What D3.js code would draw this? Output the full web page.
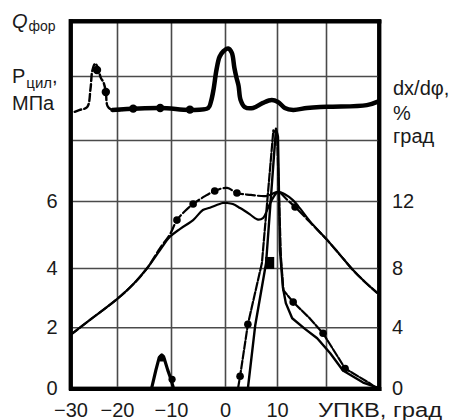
<!DOCTYPE html>
<html><head><meta charset="utf-8">
<script src="https://cdn.jsdelivr.net/npm/d3@7"></script>
<style>
body{margin:0;background:#fff}
svg{display:block}
text{font-family:"Liberation Sans",Arial,Helvetica,sans-serif;fill:#1a1a1a}
</style>
</head><body>
<svg id="c" width="458" height="420"></svg>
<script>
// ---- axes / ticks ----
const xGrid = [-30, -20, -10, 0, 10, 20, 30];
const xTickLabels = [-30, -20, -10, 0, 10];
const yGrid = [0, 2, 4, 6, 8, 10, 12];          // left scale (P, MPa) full height
const leftTicks = [0, 2, 4, 6];
const rightTicks = [0, 4, 8, 12];                // dx/dφ
const xAxisTitle = "УПКВ, град";

// ---- injection rate Q_фор (plotted in left-scale units) ----
const qEarly = [[-29.1,8.88],[-28.0,8.94],[-26.4,9.03],[-25.7,9.6],[-25.3,10.2],[-24.7,10.45],[-24.1,10.3],[-23.5,9.95],[-22.9,9.8],[-22.4,9.5],[-22.0,9.05],[-20.9,8.94],[-17.0,8.97],[-12.0,9.0],[-6.5,8.94],[-4.0,8.97]];
const qEarlyMarks = [[-24.3,10.22],[-22.4,9.5],[-17.0,8.98],[-12.0,9.0],[-6.5,8.95]];
const qMain = [[-21.0,8.94],[-12.0,9.0],[-6.5,8.94],[-3.1,9.0],[-2.6,9.2],[-2.1,9.6],[-1.6,10.2],[-1.0,10.7],[-0.3,10.9],[0.6,11.0],[1.3,10.85],[1.8,10.3],[2.2,9.95],[2.6,9.7],[3.0,9.25],[3.8,9.03],[5.4,9.0],[7.3,9.16],[9.0,9.25],[10.2,9.19],[11.6,9.0],[13.3,8.94],[16.1,9.0],[18.8,9.03],[21.3,9.04],[27.7,9.09],[29.8,9.2]];

// ---- cylinder pressure P_цил, MPa ----
const pSolid = [[-30,1.75],[-25.4,2.3],[-20,2.95],[-17,3.45],[-14.4,4.0],[-12,4.54],[-10.2,4.93],[-8.3,5.17],[-5.9,5.43],[-4.1,5.73],[-2.8,5.8],[-0.4,5.94],[0.4,5.94],[1.5,5.91],[2.9,5.79],[4.8,5.6],[6.2,5.45],[7.3,5.49],[8.7,5.94],[10.2,6.3],[11.6,6.22],[13.3,6.02],[14.7,5.78],[16.7,5.4],[20.2,4.84],[22.6,4.4],[25.1,3.93],[27.4,3.52],[29.6,3.17]];
const pDashed = [[-30,1.75],[-25.4,2.3],[-20,2.95],[-17,3.45],[-14.4,4.0],[-12,4.6],[-10.2,5.0],[-8.9,5.43],[-7.4,5.7],[-5.9,5.91],[-3.8,6.15],[-1.9,6.33],[0.4,6.43],[2.3,6.26],[5.0,6.2],[7.7,6.16],[8.7,6.2],[10.2,6.3],[12.0,6.05],[13.7,5.82],[16.7,5.37],[20.2,4.84],[22.6,4.4],[25.1,3.93],[27.4,3.52],[29.6,3.17]];
const pDashedMarks = [[-8.9,5.43],[-5.9,5.91],[-1.9,6.33],[2.3,6.26],[13.7,5.82]];

// ---- heat release rate dx/dφ, %/град ----
const hMarked = [[2.5,0],[2.9,0.8],[4.4,4.2],[7.1,8.3],[9.3,16.6],[10.0,16.4],[10.8,8.66],[11.3,6.5],[13.3,5.7],[16.7,4.6],[19.4,3.61],[23.6,1.31],[28.3,0.33],[29.6,0]];
const hMarkedMarks = [[2.9,0.8],[4.4,4.2],[13.3,5.7],[19.4,3.61],[23.6,1.31]];
const hSolid = [[4.4,0],[5.8,4.1],[7.9,8.3],[9.8,16.7],[10.2,16.2],[10.6,9.07],[11.2,6.7],[11.8,5.63],[13.1,4.61],[15.7,3.9],[18.2,3.28],[20.8,2.3],[23.2,1.18],[27.0,0.39],[29.6,0.07]];
const hSolidSquare = [[8.6,8.3]];
const hEarly = [[-13.6,0],[-12.8,1.2],[-12.2,2.0],[-11.7,2.2],[-11.2,1.9],[-10.6,1.2],[-10.1,0.7],[-9.6,0.1]];
const hEarlyMarks = [[-11.7,2.0],[-9.8,0.6]];

// ---- scales ----
const xRange = [70.5, 117, 171, 225, 277, 326, 379];
const yRange = [388.5, 327.3, 268, 201, 140, 76, 21];
const x = d3.scaleLinear().domain(xGrid).range(xRange);
const yL = d3.scaleLinear().domain(yGrid).range(yRange);
const yR = d3.scaleLinear().domain(yGrid.map(v => v * 2)).range(yRange);

const svg = d3.select("#c");
const plotL = xRange[0], plotR = xRange[xRange.length - 1];
const plotB = yRange[0], plotT = yRange[yRange.length - 1];
const fw = 3.8; // frame weight

// heavy frame: black plate with white plot area on top
svg.append("rect").attr("x", plotL - fw / 2).attr("y", plotT - fw / 2)
  .attr("width", plotR - plotL + fw).attr("height", plotB - plotT + fw).style("fill", "#000");
svg.append("rect").attr("x", plotL + fw / 2).attr("y", plotT + fw / 2)
  .attr("width", plotR - plotL - fw).attr("height", plotB - plotT - fw).style("fill", "#fff");

// grid (via axes)
const gridX = svg.append("g").attr("transform", `translate(0,${plotB})`)
  .call(d3.axisBottom(x).tickValues(xGrid.slice(1, -1)).tickSize(-(plotB - plotT)).tickFormat(""));
const gridY = svg.append("g").attr("transform", `translate(${plotL},0)`)
  .call(d3.axisLeft(yL).tickValues(yGrid.slice(1, -1)).tickSize(-(plotR - plotL)).tickFormat(""));
[gridX, gridY].forEach(g => {
  g.select(".domain").remove();
  g.selectAll("line").style("stroke", "#4a4a4a").style("stroke-width", "1.6px");
});

const lineL = d3.line().x(d => x(d[0])).y(d => yL(d[1])).curve(d3.curveCatmullRom.alpha(0.5));
const lineR = d3.line().x(d => x(d[0])).y(d => yR(d[1])).curve(d3.curveLinear);

function drawPath(data, gen, w, dash) {
  const el = svg.append("path").datum(data).attr("d", gen)
    .style("fill", "none").style("stroke", "#000").style("stroke-width", w + "px")
    .style("stroke-linejoin", "round").style("stroke-linecap", "round");
  if (dash) el.style("stroke-dasharray", dash);
}
function dots(data, ys, r) {
  svg.append("g").selectAll("circle").data(data).join("circle")
    .attr("cx", d => x(d[0])).attr("cy", d => ys(d[1])).attr("r", r).style("fill", "#000");
}

// Q_фор
drawPath(qEarly, lineL, 2.4, "7,3");
drawPath(qMain, lineL, 4.5);
dots(qEarlyMarks, yL, 4.2);

// pressure
drawPath(pSolid, lineL, 2.2);
drawPath(pDashed, lineL, 2.2, "9,3");
dots(pDashedMarks, yL, 3.8);

// heat release
drawPath(hEarly, lineR, 3.2);
dots(hEarlyMarks, yR, 3.6);
drawPath(hMarked, lineR, 2.2, "8,2");
dots(hMarkedMarks, yR, 3.8);
drawPath(hSolid, lineR, 2.4);
svg.append("g").selectAll("rect").data(hSolidSquare).join("rect")
  .attr("x", d => x(d[0]) - 4.5).attr("y", d => yR(d[1]) - 6).attr("width", 9).attr("height", 12).style("fill", "#000");

// axes: domain paths also trace the heavy frame
const fs = 20;
const gB = svg.append("g").attr("transform", `translate(0,${plotB})`)
  .call(d3.axisBottom(x).tickValues(xTickLabels).tickSize(0).tickSizeOuter(0).tickPadding(14));
const gT = svg.append("g").attr("transform", `translate(0,${plotT})`)
  .call(d3.axisTop(x).tickValues([]).tickSizeOuter(0));
const gL = svg.append("g").attr("transform", `translate(${plotL},0)`)
  .call(d3.axisLeft(yL).tickValues(leftTicks).tickSize(0).tickSizeOuter(0).tickPadding(13));
const gR = svg.append("g").attr("transform", `translate(${plotR},0)`)
  .call(d3.axisRight(yR).tickValues(rightTicks).tickSize(0).tickSizeOuter(0).tickPadding(13));
[gB, gT, gL, gR].forEach(g => {
  g.select(".domain").style("stroke", "#000").style("stroke-width", fw + "px").style("stroke-linecap", "square");
  g.attr("font-size", fs).attr("font-family", "Liberation Sans, Arial, sans-serif");
  g.selectAll(".tick line").remove();
  g.selectAll("text").style("fill", "#1a1a1a");
});

svg.append("text").attr("x", 318).attr("y", 417).attr("font-size", fs)
  .attr("textLength", 124).attr("lengthAdjust", "spacingAndGlyphs").text(xAxisTitle);

// left titles
const qLab = svg.append("text").attr("x", 12).attr("y", 28).attr("font-size", fs);
qLab.append("tspan").attr("font-style", "italic").text("Q");
qLab.append("tspan").attr("font-size", 14).attr("dy", 3).attr("dx", 1).text("фор");

const pLab = svg.append("text").attr("x", 12).attr("y", 83).attr("font-size", fs);
pLab.append("tspan").text("P");
pLab.append("tspan").attr("font-size", 15).attr("dy", 5).attr("dx", 1).text("цил");
pLab.append("tspan").attr("dy", -5).text(",");
svg.append("text").attr("x", 12).attr("y", 110).attr("font-size", fs).text("МПа");

// right titles
svg.append("text").attr("x", 393).attr("y", 95).attr("font-size", fs).text("dx/dφ,");
svg.append("text").attr("x", 393).attr("y", 120).attr("font-size", fs).text("%");
svg.append("text").attr("x", 393).attr("y", 143).attr("font-size", fs).text("град");
</script>
</body></html>
